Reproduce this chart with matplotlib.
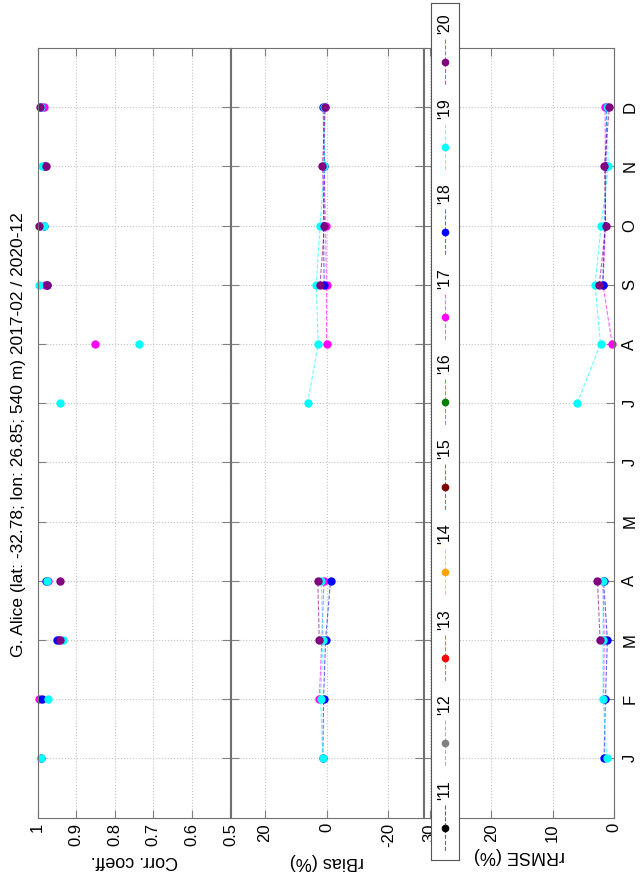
import numpy as np
import matplotlib.pyplot as plt

plt.rcParams['font.family'] = ['Liberation Sans', 'DejaVu Sans']
plt.rcParams['font.size'] = 12

nan = np.nan

# ---- data (month 1..12, NaN = no data) ----
months = np.arange(1, 13)
month_labels = ['J', 'F', 'M', 'A', 'M', 'J', 'J', 'A', 'S', 'O', 'N', 'D']

years = ["'11", "'12", "'13", "'14", "'15", "'16", "'17", "'18", "'19", "'20"]
year_colors = ['black', 'gray', 'red', 'orange', 'maroon', 'green',
               'magenta', 'blue', 'cyan', 'purple']

corr_17 = [nan, 0.995, 0.945, 0.972, nan, nan, nan, 0.852, 0.980, 0.994, 0.982, 0.982]
corr_18 = [0.990, 0.989, 0.950, 0.977, nan, nan, nan, nan, 0.976, 0.983, 0.980, 0.990]
corr_19 = [0.991, 0.974, 0.934, 0.975, nan, nan, 0.941, 0.736, 0.995, 0.984, 0.989, 0.990]
corr_20 = [nan, nan, 0.942, 0.942, nan, nan, nan, nan, 0.975, 0.996, 0.979, 0.9935]

bias_17 = [nan, 2.35, 1.5, 0.85, nan, nan, nan, 0.0, 0.0, 0.3, 0.8, 0.5]
bias_18 = [1.2, 0.95, 0.3, -1.3, nan, nan, nan, nan, 0.75, 1.0, 0.65, 1.1]
bias_19 = [1.2, 1.9, 1.1, 1.7, nan, nan, 6.1, 2.7, 3.3, 2.1, 0.65, 0.8]
bias_20 = [nan, nan, 2.35, 2.8, nan, nan, nan, nan, 2.1, 0.65, 1.3, 0.45]

rmse_17 = [nan, 1.7, 1.6, 1.8, nan, nan, nan, 0.3, 1.8, 1.4, 1.4, 1.46]
rmse_18 = [1.62, 1.4, 1.08, 1.7, nan, nan, nan, nan, 1.85, 1.5, 1.3, 1.2]
rmse_19 = [1.18, 1.78, 1.8, 1.73, nan, nan, 6.0, 2.2, 3.1, 2.1, 0.92, 1.2]
rmse_20 = [nan, nan, 2.27, 2.7, nan, nan, nan, nan, 2.4, 1.35, 1.57, 0.76]

corr = {"'17": corr_17, "'18": corr_18, "'19": corr_19, "'20": corr_20}
bias = {"'17": bias_17, "'18": bias_18, "'19": bias_19, "'20": bias_20}
rmse = {"'17": rmse_17, "'18": rmse_18, "'19": rmse_19, "'20": rmse_20}

title = "G. Alice (lat: -32.78; lon: 26.85; 540 m) 2017-02 / 2020-12"

# ---- figure (drawn in portrait: values run right-to-left, months bottom-to-top) ----
W, H = 641, 882
fig = plt.figure(figsize=(W / 100, H / 100), dpi=100)


def px_axes(x0, x1, y0, y1):
    return fig.add_axes([x0 / W, 1 - y1 / H, (x1 - x0) / W, (y1 - y0) / H])


panels = [
    # x0, x1, data, xlim, ticks, ticklabels, label, lines
    (37.5, 230.5, corr, (1.0, 0.5), [1, 0.9, 0.8, 0.7, 0.6, 0.5],
     ['1', '0.9', '0.8', '0.7', '0.6', '0.5'], 'Corr. coeff.', False),
    (230.5, 422.5, bias, (31, -31), [20, 0, -20], ['20', '0', '-20'], 'rBias (%)', True),
    (424.0, 614.0, rmse, (31, 0), [30, 20, 10, 0], ['30', '20', '10', '0'], 'rRMSE (%)', True),
]

for k, (x0, x1, data, xlim, ticks, tlabels, label, lines) in enumerate(panels):
    ax = px_axes(x0, x1, 48, 817.5)
    for yr, c in zip(years, year_colors):
        if yr not in data:
            continue
        vals = np.array(data[yr], dtype=float)
        if lines:
            ax.plot(vals, months, '--', color=c, lw=0.8, alpha=0.6)
        ax.plot(vals, months, 'o', color=c, ms=5, clip_on=False)

    ax.set_xlim(*xlim)
    ax.set_ylim(0, 13)
    ax.set_xticks(ticks)
    ax.set_xticklabels(tlabels, rotation=90)
    ax.set_yticks(months)
    last = k == len(panels) - 1
    if last:
        ax.yaxis.tick_right()
        ax.set_yticklabels(month_labels, rotation=90, va='center')
    ax.tick_params(direction='in', length=6, color='#808080', top=True, bottom=True,
                   left=True, right=True, labelleft=False, labelright=last, pad=4)
    ax.tick_params(axis='y', pad=6)
    ax.grid(True, ls=':', color='#c4c4c4', lw=0.8)
    for s in ax.spines.values():
        s.set_color('#707070')
    ax.set_xlabel(label, rotation=180, labelpad=4, fontsize=13)

fig.text(19 / W, 1 - 435 / H, title, rotation=90, ha='center', va='center', fontsize=12.5)

# ---- legend (vertical, drawn by hand) ----
lax = px_axes(431, 459, 3, 860)
lax.set_xlim(0, 1)
lax.set_ylim(860, 3)
lax.set_xticks([])
lax.set_yticks([])
for s in lax.spines.values():
    s.set_color('#555555')
for i, (yr, c) in enumerate(zip(years, year_colors)):
    yc = 827.7 - i * 85.1
    lax.plot([0.5, 0.5], [yc - 23, yc + 23], '--', color=c, lw=0.8, alpha=0.6)
    lax.plot(0.5, yc, 'o', color=c, ms=4.5)
    lax.text(0.5, yc - 28, yr, rotation=90, ha='center', va='bottom', fontsize=11.5)

fig.savefig('out.png', dpi=100)
